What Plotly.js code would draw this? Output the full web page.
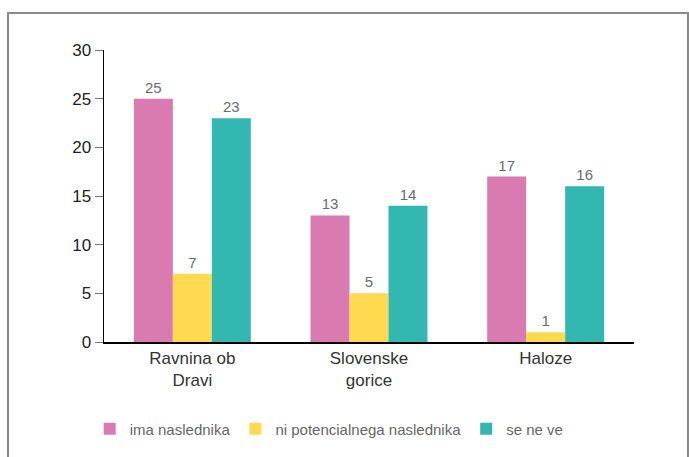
<!DOCTYPE html>
<html>
<head>
<meta charset="utf-8">
<script src="https://cdn.plot.ly/plotly-3.0.1.min.js"></script>
<style>
html,body{margin:0;padding:0;background:#fff;}
#wrap{position:relative;width:689px;height:457px;overflow:hidden;}
#frame{position:absolute;left:7px;top:12px;width:678px;height:460px;border:2px solid #8a8a8a;border-bottom:none;z-index:2;pointer-events:none;}
#chart{position:absolute;left:0;top:0;width:689px;height:457px;}
</style>
</head>
<body>
<div id="wrap"><div id="chart"></div><div id="frame"></div></div>
<script>
const categories = ["Ravnina ob<br>Dravi", "Slovenske<br>gorice", "Haloze"];
const seriesNames = ["ima naslednika", "ni potencialnega naslednika", "se ne ve"];
const imaNaslednika = [25, 13, 17];
const niPotencialnega = [7, 5, 1];
const seNeVe = [23, 14, 16];
const yTicks = [0, 5, 10, 15, 20, 25, 30];

const colors = ["#d97ab0", "#ffd94f", "#33b8b1"];
const values = [imaNaslednika, niPotencialnega, seNeVe];
const font = "Liberation Sans, Arial, sans-serif";

const traces = values.map((v, i) => ({
  type: "bar",
  name: seriesNames[i],
  x: categories,
  y: v,
  marker: {color: colors[i]},
  text: v.map(String),
  textposition: "outside",
  cliponaxis: false,
  textfont: {family: font, size: 15, color: "#6b6b6b"}
}));

const layout = {
  width: 689, height: 457,
  margin: {l: 104, r: 55, t: 50, b: 115},
  paper_bgcolor: "#fff", plot_bgcolor: "#fff",
  barmode: "group",
  bargap: 0.338, bargroupgap: 0,
  showlegend: true,
  legend: {
    orientation: "h", x: -0.027, xanchor: "left", y: -0.298, yanchor: "middle",
    font: {family: font, size: 15, color: "#666"},
    itemsizing: "constant", tracegroupgap: 0
  },
  xaxis: {
    showline: true, linecolor: "#000", linewidth: 1.5,
    ticks: "", showgrid: false, zeroline: false,
    tickfont: {family: font, size: 17, color: "#333"}
  },
  yaxis: {
    range: [0, 30], tickvals: yTicks, ticktext: yTicks.map(String),
    showline: true, linecolor: "#000", linewidth: 1.5,
    ticks: "outside", ticklen: 8, tickcolor: "#777", tickwidth: 1,
    showgrid: false, zeroline: false,
    tickfont: {family: font, size: 17, color: "#222"}
  }
};

Plotly.newPlot("chart", traces, layout, {displayModeBar: false, staticPlot: true});
</script>
</body>
</html>
